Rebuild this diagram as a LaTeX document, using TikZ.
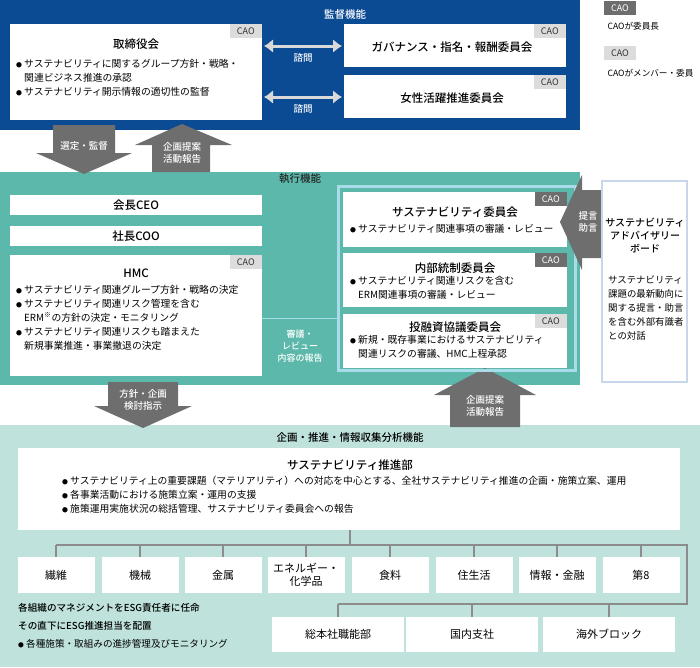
\documentclass[tikz,border=0pt]{standalone}
\usepackage{fontspec}
\setmainfont{Noto Sans CJK JP}[BoldFont={Noto Sans CJK JP Medium}]
\usetikzlibrary{positioning}
\definecolor{kanblue}{HTML}{0B4B94}
\definecolor{shteal}{HTML}{5BB8AA}
\definecolor{kiteal}{HTML}{BFE3DC}
\definecolor{frameblue}{HTML}{A9DCE9}
\definecolor{advblue}{HTML}{C7D6EA}
\definecolor{arrgray}{HTML}{6E6E6E}
\definecolor{linegray}{HTML}{8C8C8C}
\definecolor{tagdark}{HTML}{6D6D6D}
\definecolor{taglight}{HTML}{DCDCDC}
\newcommand{\bt}{\makebox[8pt][l]{\scalebox{0.6}{●}}}
\tikzset{
  box/.style={fill=white,draw=none},
  ttl/.style={font=\fontsize{11.5}{13}\selectfont\bfseries},
  bul/.style={font=\fontsize{9.8}{14}\selectfont,align=left,anchor=north west,inner sep=0pt},
  lbl/.style={font=\fontsize{9.5}{12}\selectfont\bfseries,text=white,align=center},
  chair/.style={fill=tagdark,text=white,font=\fontsize{9}{10}\selectfont,minimum width=32pt,minimum height=14pt,inner sep=0pt},
  member/.style={fill=taglight,text=black!80,font=\fontsize{9}{10}\selectfont,minimum width=32pt,minimum height=14pt,inner sep=0pt},
  unit/.style={fill=white,font=\fontsize{11}{13}\selectfont,align=center,minimum height=36pt,inner sep=0pt},
  tree/.style={draw=linegray,line width=2pt},
  dbl/.style={draw=white!85!black,line width=3pt,<->,>={Latex[length=9pt,width=14pt]}}
}
\usetikzlibrary{arrows.meta}
\begin{document}
\begin{tikzpicture}[x=1pt,y=-1pt]
\useasboundingbox (0,0) rectangle (700,667);
% bands
\fill[kanblue] (0,0) rectangle (580,130);
\fill[shteal] (0,172) rectangle (580,385);
\fill[kiteal] (0,425) rectangle (700,667);
\node[lbl,font=\fontsize{10.5}{12}\selectfont\bfseries] (kanshi) at (345,14) {監督機能};
\node[lbl,font=\fontsize{10.5}{12}\selectfont\bfseries,text=black!85] (shikko) at (300,179) {執行機能};
\node[font=\fontsize{10.5}{12}\selectfont\bfseries] (kikaku) at (350,438) {企画・推進・情報収集分析機能};
% legend
\node[chair] (legA) at (620,8) {CAO};
\node[font=\fontsize{8.6}{10}\selectfont,anchor=west] (legAt) at (604,26) {CAOが委員長};
\node[member] (legB) at (620,53) {CAO};
\node[font=\fontsize{8.6}{10}\selectfont,anchor=west] (legBt) at (604,73) {CAOがメンバー・委員};
% supervision
\fill[box] (10,24) rectangle (262,120);
\node[member,anchor=north east] (tagboard) at (262,24) {CAO};
\node[ttl] (board) at (136,44) {取締役会};
\node[bul] (boardtx) at (16,59) {\bt サステナビリティに関するグループ方針・戦略・\\\hspace*{8pt}関連ビジネス推進の承認\\\bt サステナビリティ開示情報の適切性の監督};
\fill[box] (344,24) rectangle (566,67);
\node[member,anchor=north east] (taggov) at (566,24) {CAO};
\node[ttl] (gov) at (452,47) {ガバナンス・指名・報酬委員会};
\fill[box] (344,75) rectangle (566,118);
\node[member,anchor=north east] (tagwom) at (566,75) {CAO};
\node[ttl] (wom) at (452,98) {女性活躍推進委員会};
\coordinate (a1) at (264,46); \coordinate (b1) at (342,46);
\coordinate (a2) at (264,97); \coordinate (b2) at (342,97);
\draw[dbl] (a1) -- (b1);
\draw[dbl] (a2) -- (b2);
\node[lbl] (shimon1) at (303,58) {諮問};
\node[lbl] (shimon2) at (303,109) {諮問};
% gray arrows
\fill[arrgray] (53,125) -- (115,125) -- (115,153) -- (132,153) -- (84,174) -- (36,153) -- (53,153) -- cycle;
\node[lbl] (sentei) at (84,146) {選定・監督};
\fill[arrgray] (152,172) -- (210,172) -- (210,145) -- (232,145) -- (182,124) -- (135,145) -- (152,145) -- cycle;
\node[lbl] (teian1) at (182,153) {企画提案\\活動報告};
\fill[arrgray] (108,382) -- (178,382) -- (178,406) -- (192,406) -- (143,428) -- (94,406) -- (108,406) -- cycle;
\node[lbl] (hoshin) at (143,400) {方針・企画\\検討指示};
\fill[arrgray] (450,427) -- (520,427) -- (520,395) -- (536,395) -- (485,368) -- (434,395) -- (450,395) -- cycle;
\node[lbl] (teian2) at (485,406) {企画提案\\活動報告};
% execution left
\fill[box] (10,195) rectangle (262,215);
\node[ttl] (ceo) at (136,205) {会長CEO};
\fill[box] (10,226) rectangle (262,246);
\node[ttl] (coo) at (136,236) {社長COO};
\fill[box] (10,255) rectangle (262,376);
\node[member,anchor=north east] (taghmc) at (262,255) {CAO};
\node[ttl] (hmc) at (136,273) {HMC};
\node[bul] (hmctx) at (16,285) {\bt サステナビリティ関連グループ方針・戦略の決定\\\bt サステナビリティ関連リスク管理を含む\\\hspace*{8pt}ERM\textsuperscript{※}の方針の決定・モニタリング\\\bt サステナビリティ関連リスクも踏まえた\\\hspace*{8pt}新規事業推進・事業撤退の決定};
\draw[frameblue,line width=1pt] (262,318) -- (337,318);
\node[lbl,font=\fontsize{9}{12}\selectfont\bfseries] (shingi) at (300,346) {審議・\\レビュー\\内容の報告};
% execution right
\draw[frameblue,line width=3pt] (338,186) rectangle (575,370);
\fill[box] (343,192) rectangle (567,247);
\node[chair,anchor=north east] (tagsus) at (567,192) {CAO};
\node[ttl] (suscom) at (455,212) {サステナビリティ委員会};
\node[bul] (suscomtx) at (350,224) {\bt サステナビリティ関連事項の審議・レビュー};
\fill[box] (343,253) rectangle (567,307);
\node[chair,anchor=north east] (tagnai) at (567,253) {CAO};
\node[ttl] (naibu) at (455,268) {内部統制委員会};
\node[bul] (naibutx) at (350,276) {\bt サステナビリティ関連リスクを含む\\\hspace*{8pt}ERM関連事項の審議・レビュー};
\fill[box] (343,314) rectangle (567,368);
\node[member,anchor=north east] (tagtoyu) at (567,314) {CAO};
\node[ttl] (toyu) at (455,327) {投融資協議委員会};
\node[bul] (toyutx) at (350,335) {\bt 新規・既存事業におけるサステナビリティ\\\hspace*{8pt}関連リスクの審議、HMC上程承認};
% advisory
\fill[arrgray] (607,190) -- (582,190) -- (582,175) -- (560,222) -- (582,270) -- (582,258) -- (607,258) -- cycle;
\node[lbl] (teigen) at (588,222) {提言\\助言};
\draw[advblue,fill=white,line width=2.5pt] (602,181) rectangle (687,382);
\node[font=\fontsize{10}{13}\selectfont\bfseries,align=center] (adv) at (645,236) {サステナビリティ\\アドバイザリー\\ボード};
\node[bul,font=\fontsize{9.4}{14}\selectfont] (advtx) at (608,276) {サステナビリティ\\課題の最新動向に\\関する提言・助言\\を含む外部有識者\\との対話};
% promotion
\fill[box] (18,448) rectangle (680,530);
\node[ttl] (suisin) at (350,465) {サステナビリティ推進部};
\node[bul] (suisintx) at (62,476) {\bt サステナビリティ上の重要課題（マテリアリティ）への対応を中心とする、全社サステナビリティ推進の企画・施策立案、運用\\\bt 各事業活動における施策立案・運用の支援\\\bt 施策運用実施状況の総括管理、サステナビリティ委員会への報告};
\coordinate (t0) at (350,530);
\coordinate (tr) at (687,545);
\coordinate (tb) at (687,604);
\draw[tree] (t0) -- (350,545);
\draw[tree] (56,545) -- (tr) -- (tb) -- (338,604);
\foreach \nm/\cx/\tx in {sen/56/繊維,kik/140/機械,kin/223/金属,ene/306/{エネルギー・\\化学品},sho/390/食料,jyu/474/住生活,jyo/557/情報・金融,dai/641/第8}
{
  \draw[tree] (\cx,545) -- (\cx,557);
  \node[unit,minimum width=77pt] (\nm) at (\cx,575) {\tx};
}
\foreach \nm/\cx/\tx in {soh/338/総本社職能部,koku/472/国内支社,kai/609/海外ブロック}
{
  \draw[tree] (\cx,604) -- (\cx,617);
  \node[unit,minimum width=132pt,minimum height=35pt] (\nm) at (\cx,634.5) {\tx};
}
\node[bul,font=\fontsize{9.6}{18}\selectfont\bfseries] (esg) at (18,603) {各組織のマネジメントをESG責任者に任命\\その直下にESG推進担当を配置\\{\mdseries\bt 各種施策・取組みの進捗管理及びモニタリング}};
\end{tikzpicture}
\end{document}
